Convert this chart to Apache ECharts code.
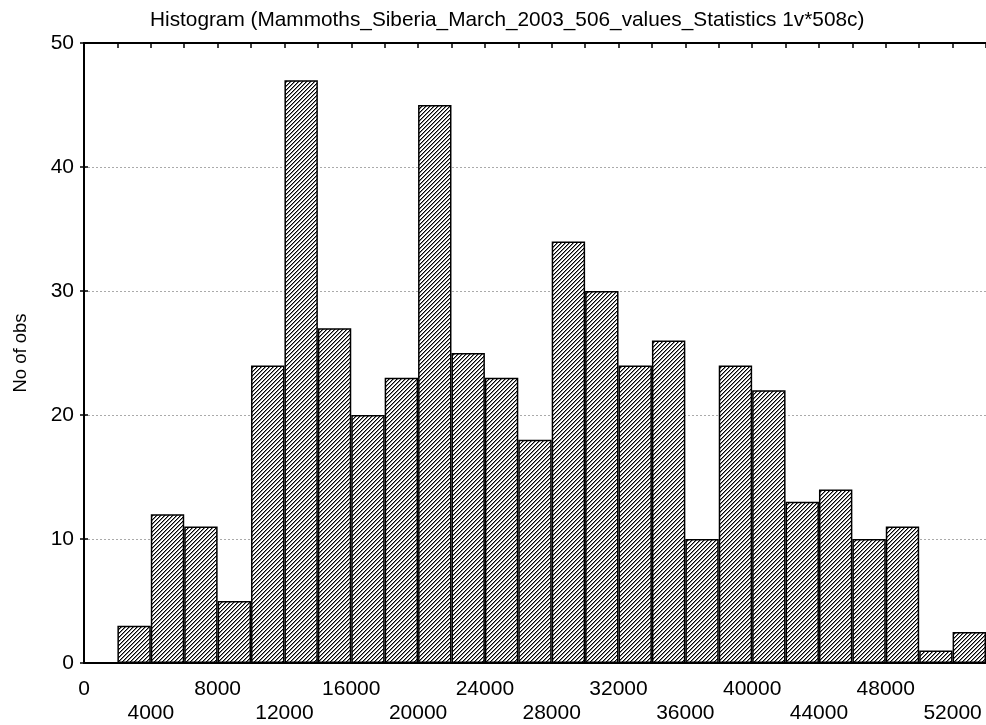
<!DOCTYPE html>
<html>
<head>
<meta charset="utf-8">
<script src="https://cdn.jsdelivr.net/npm/echarts@6/dist/echarts.min.js"></script>
<style>
html,body{margin:0;padding:0;background:#fff;}
#chart{width:986px;height:725px;}
</style>
</head>
<body>
<div id="chart"></div>
<script>
// Data
const binStarts = [0,2000,4000,6000,8000,10000,12000,14000,16000,18000,20000,22000,24000,26000,28000,30000,32000,34000,36000,38000,40000,42000,44000,46000,48000,50000,52000];
const counts = [null,3,12,11,5,24,47,27,20,23,45,25,23,18,34,30,24,26,10,24,22,13,14,10,11,1,2.5];
const categories = binStarts.map(s => s + '-' + (s + 2000));
const titleText = 'Histogram (Mammoths_Siberia_March_2003_506_values_Statistics 1v*508c)';
const yName = 'No of obs';

// hatch pattern
const pc = document.createElement('canvas');
pc.width = 4; pc.height = 4;
const pctx = pc.getContext('2d');
pctx.fillStyle = '#fff';
pctx.fillRect(0,0,4,4);
for (let i = 0; i < 4; i++) {
  pctx.fillStyle = '#000';
  pctx.fillRect(i, 3 - i, 1, 1);
  pctx.fillStyle = '#888';
  pctx.fillRect((i + 1) % 4, 3 - i, 1, 1);
}

const FONT = 'Liberation Sans, Arial, sans-serif';
const chart = echarts.init(document.getElementById('chart'));
chart.setOption({
  animation: false,
  backgroundColor: '#fff',
  title: {
    text: titleText,
    left: 145,
    top: 5,
    textStyle: {fontFamily: FONT, fontSize: 20.8, fontWeight: 'normal', color: '#000'}
  },
  grid: {left: 84, right: -4, top: 43, bottom: 62},
  xAxis: [
    {type: 'category', data: categories, show: false, boundaryGap: true, position: 'bottom'},
    {type: 'value', min: 0, max: 54000, interval: 4000, position: 'bottom',
     axisLine: {show: true, onZero: false, lineStyle: {color: '#000', width: 2}},
     axisTick: {show: false},
     splitLine: {show: false},
     axisLabel: {
       showMaxLabel: false,
       fontFamily: FONT, fontSize: 21, color: '#000',
       verticalAlign: 'top', lineHeight: 24, margin: 14,
       formatter: v => (v > 52000 ? '' : ((v / 4000) % 2 === 0 ? String(v) : '\n' + v))
     }},
    {type: 'value', min: 0, max: 54000, interval: 2000, position: 'top',
     axisLine: {show: true, onZero: false, lineStyle: {color: '#000', width: 2}},
     axisTick: {show: true, inside: true, length: 5, lineStyle: {color: '#000', width: 1.5}},
     axisLabel: {show: false}, splitLine: {show: false}}
  ],
  yAxis: [
    {type: 'value', min: 0, max: 50, interval: 10, position: 'left',
     name: yName, nameLocation: 'middle', nameRotate: 90, nameGap: 54,
     nameTextStyle: {fontFamily: FONT, fontSize: 18.5, color: '#000'},
     axisLine: {show: true, lineStyle: {color: '#000', width: 2}},
     axisTick: {show: true, inside: true, length: 4, lineStyle: {color: '#000', width: 1.5}},
     axisLabel: {fontFamily: FONT, fontSize: 21, color: '#000', margin: 10},
     splitLine: {show: true, lineStyle: {color: '#aaa', type: [2, 2], width: 1}}},
    {type: 'value', min: 0, max: 50, interval: 10, position: 'right',
     axisLine: {show: true, lineStyle: {color: '#000', width: 2}},
     axisTick: {show: true, inside: true, length: 4, lineStyle: {color: '#000', width: 1.5}},
     axisLabel: {show: false}, splitLine: {show: false}}
  ],
  series: [{
    type: 'bar',
    xAxisIndex: 0, yAxisIndex: 0,
    data: counts,
    barCategoryGap: '0%',
    itemStyle: {color: {image: pc, repeat: 'repeat'}, borderColor: '#000', borderWidth: 1.5}
  }]
});
</script>
</body>
</html>
